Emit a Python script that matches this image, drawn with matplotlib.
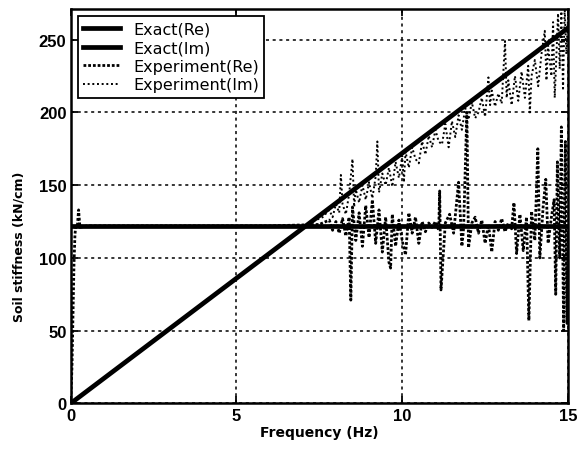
import matplotlib.pyplot as plt

# Exact soil stiffness (real part flat, imaginary part rising with frequency)
freq_exact = [0.0, 15.0]
exact_re = [122.0, 122.0]
exact_im = [0.0, 258.0]

# Measured real part
freq_re = [0.0, 0.04, 0.07, 0.10, 0.13, 0.16, 0.20, 0.24, 0.28, 0.5, 2.0, 4.0, 6.0,
           7.5, 7.8, 7.9, 8.0, 8.1, 8.2, 8.3, 8.4, 8.45, 8.5, 8.6, 8.7, 8.8, 8.9,
           9.0, 9.1, 9.2, 9.3, 9.4, 9.5, 9.6, 9.65, 9.7, 9.8, 9.9, 10.0, 10.1,
           10.2, 10.3, 10.4, 10.5, 10.6, 10.7, 10.8, 10.9, 11.0, 11.1, 11.13,
           11.17, 11.3, 11.43, 11.55, 11.7, 11.8, 11.85, 11.95, 12.0, 12.1, 12.2,
           12.3, 12.4, 12.5, 12.6, 12.7, 12.8, 12.9, 13.0, 13.1, 13.2, 13.3,
           13.37, 13.45, 13.55, 13.65, 13.75, 13.82, 13.9, 14.0, 14.09, 14.15,
           14.25, 14.33, 14.4, 14.5, 14.58, 14.63, 14.68, 14.75, 14.8, 14.87,
           14.92, 14.97, 15.0]
stiff_re = [0, 25, 60, 95, 116, 123, 121, 133, 121, 122, 122, 122, 122,
            123, 126, 119, 125, 117, 127, 115, 128, 71, 135, 112, 131, 108, 136,
            114, 140, 110, 133, 104, 128, 97, 93, 130, 108, 126, 112, 102,
            131, 117, 128, 110, 125, 118, 124, 121, 125, 119, 146,
            78, 124, 130, 117, 152, 108, 120, 200, 107, 124, 128,
            117, 126, 110, 123, 104, 125, 119, 127, 118, 124, 120,
            138, 103, 130, 105, 128, 57, 132, 112, 175, 100,
            135, 154, 110, 128, 140, 75, 166, 100, 190, 50,
            180, 55, 123]

# Measured imaginary part
freq_im = [0.0, 3.0, 6.0, 7.2, 7.4, 7.6, 7.8, 7.9, 8.0, 8.1, 8.15, 8.2, 8.3, 8.4,
           8.5, 8.55, 8.6, 8.7, 8.8, 8.9, 9.0, 9.1, 9.2, 9.25, 9.3, 9.4, 9.5,
           9.6, 9.7, 9.8, 9.9, 10.0, 10.05, 10.1, 10.2, 10.3, 10.4, 10.5, 10.6,
           10.7, 10.8, 10.9, 11.0, 11.1, 11.2, 11.3, 11.4, 11.5, 11.6, 11.7,
           11.8, 11.9, 12.0, 12.1, 12.2, 12.3, 12.4, 12.5, 12.6, 12.65, 12.7,
           12.8, 12.9, 13.0, 13.1, 13.15, 13.2, 13.3, 13.4, 13.5, 13.6, 13.7,
           13.8, 13.85, 13.9, 14.0, 14.1, 14.2, 14.3, 14.35, 14.4, 14.5, 14.55,
           14.6, 14.7, 14.75, 14.8, 14.85, 14.9, 14.95, 15.0]
stiff_im = [0, 52, 103, 124, 126, 128, 133, 128, 137, 131, 157, 137, 130, 144,
            168, 135, 147, 138, 150, 140, 152, 141, 156, 180, 145, 158, 150,
            162, 149, 166, 155, 170, 152, 173, 162, 176, 168, 165, 180,
            171, 184, 176, 188, 180, 178, 192, 176, 194, 183, 198,
            188, 203, 195, 207, 196, 200, 210, 197, 224, 205, 215,
            204, 213, 206, 249, 210, 222, 205, 225, 208, 228, 210,
            232, 200, 225, 236, 218, 240, 256, 222, 246, 225, 262,
            210, 268, 230, 271, 215, 272, 240, 265]

fig = plt.figure(figsize=(5.79, 4.56), dpi=100)
ax = fig.add_axes([0.122, 0.113, 0.859, 0.865])

ax.plot(freq_exact, exact_re, color='black', lw=3.4, label='Exact(Re)', zorder=4)
ax.plot(freq_exact, exact_im, color='black', lw=3.4, label='Exact(Im)', zorder=4)
ax.plot(freq_re, stiff_re, color='black', lw=2.0, linestyle=(0, (1, 0.7)),
        label='Experiment(Re)', zorder=3)
ax.plot(freq_im, stiff_im, color='black', lw=1.4, linestyle=(0, (1, 1.4)),
        label='Experiment(Im)', zorder=3)

ax.set_xlim(0, 15)
ax.set_ylim(0, 271)
ax.set_xticks([0, 5, 10, 15])
ax.set_yticks([0, 50, 100, 150, 200, 250])
ax.grid(True, color='black', linestyle=(0, (2, 2.4)), lw=1.1)
ax.tick_params(direction='in', top=True, right=True, length=5, width=1.3,
               labelsize=12, pad=3)
for lab in ax.get_xticklabels() + ax.get_yticklabels():
    lab.set_fontweight('bold')
    lab.set_family('Liberation Sans')
for sp in ax.spines.values():
    sp.set_linewidth(1.8)

ax.set_xlabel('Frequency (Hz)', fontsize=10, fontweight='bold', labelpad=2)
ax.set_ylabel('Soil stiffness (kN/cm)', fontsize=9, fontweight='bold')
ax.yaxis.set_label_coords(-0.09, 0.4)

leg = ax.legend(loc='upper left', fontsize=11.5, handlelength=2.3,
                handletextpad=0.8, labelspacing=0.22, borderaxespad=0.45,
                borderpad=0.35, fancybox=False, framealpha=1, edgecolor='black')
leg.get_frame().set_linewidth(1.3)

plt.savefig('out.png', dpi=100)
